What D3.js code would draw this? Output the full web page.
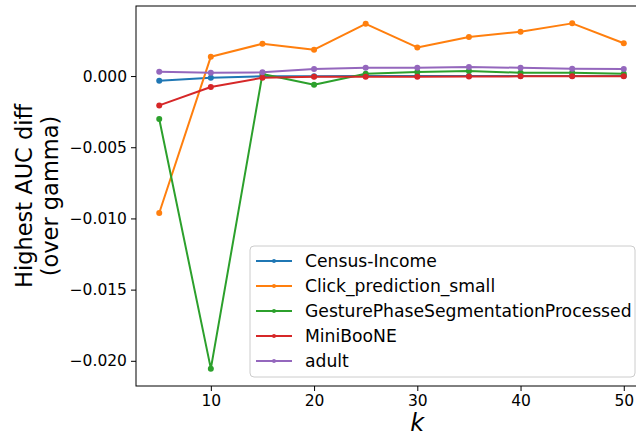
<!DOCTYPE html>
<html>
<head>
<meta charset="utf-8">
<script src="https://d3js.org/d3.v7.min.js"></script>
<style>
  body { margin: 0; background: #fff; }
  text { font-family: "DejaVu Sans", sans-serif; fill: #000; }
</style>
</head>
<body>
<div id="chart"></div>
<script>
// data
var kValues = [5, 10, 15, 20, 25, 30, 35, 40, 45, 50];
var seriesNames = ["Census-Income", "Click_prediction_small", "GesturePhaseSegmentationProcessed", "MiniBooNE", "adult"];
var census = [-0.00033, -0.00012, -0.00001, -0.00001, 0.0, 0.0, 0.0, 0.0, 0.0, 0.0];
var click = [-0.00962, 0.00136, 0.00227, 0.00185, 0.00367, 0.00201, 0.00274, 0.00311, 0.00370, 0.00230];
var gesture = [-0.00302, -0.02055, 0.00014, -0.00061, 0.00016, 0.00028, 0.00035, 0.00023, 0.00023, 0.00016];
var miniboone = [-0.00206, -0.00077, -0.00012, -0.00005, -0.00005, -0.00005, -0.00004, -0.00002, -0.00002, -0.00002];
var adult = [0.00030, 0.00023, 0.00026, 0.00049, 0.00058, 0.00058, 0.00063, 0.00058, 0.00051, 0.00049];
var xTicks = [10, 20, 30, 40, 50];
var yTicks = [0, -0.005, -0.010, -0.015, -0.020];
var colors = ["#1f77b4", "#ff7f0e", "#2ca02c", "#d62728", "#9467bd"];

var allSeries = [census, click, gesture, miniboone, adult];

var W = 636, H = 439;
var margin = {top: 6, left: 136, right: -11, bottom: 53};

var svg = d3.select("#chart").append("svg")
  .attr("width", W)
  .attr("height", H);

var x = d3.scaleLinear()
  .domain([2.75, 52.25])
  .range([margin.left, W - margin.right]);

var y = d3.scaleLinear()
  .domain([-0.02177, 0.00492])
  .range([H - margin.bottom, margin.top]);

// lines
var line = d3.line()
  .x(function(d, i) { return x(kValues[i]); })
  .y(function(d) { return y(d); });

allSeries.forEach(function(vals, s) {
  svg.append("path")
    .datum(vals)
    .attr("d", line)
    .attr("fill", "none")
    .attr("stroke", colors[s])
    .attr("stroke-width", 2)
    .attr("stroke-linejoin", "round");
  svg.selectAll(".dot" + s)
    .data(vals)
    .enter().append("circle")
    .attr("cx", function(d, i) { return x(kValues[i]); })
    .attr("cy", function(d) { return y(d); })
    .attr("r", 3)
    .attr("fill", colors[s]);
});

// axes
var fmt = function(d) { return d3.format(".3f")(d).replace("-", "\u2212"); };

var xAxis = svg.append("g")
  .attr("transform", "translate(0," + (H - margin.bottom) + ")")
  .call(d3.axisBottom(x).tickValues(xTicks).tickSize(5).tickPadding(4));

var yAxis = svg.append("g")
  .attr("transform", "translate(" + margin.left + ",0)")
  .call(d3.axisLeft(y).tickValues(yTicks).tickFormat(fmt).tickSize(5).tickPadding(4));

[xAxis, yAxis].forEach(function(g) {
  g.select(".domain").remove();
  g.selectAll("line").attr("stroke", "#000").attr("stroke-width", 1);
  g.selectAll("text").style("font-family", "DejaVu Sans").style("font-size", "15.5px").attr("fill", "#000");
});

// frame
svg.append("rect")
  .attr("x", margin.left)
  .attr("y", margin.top)
  .attr("width", x.range()[1] - margin.left)
  .attr("height", H - margin.bottom - margin.top)
  .attr("fill", "none")
  .attr("stroke", "#000")
  .attr("stroke-width", 1);

// axis labels
svg.append("text")
  .attr("transform", "translate(32,196) rotate(-90)")
  .attr("text-anchor", "middle")
  .style("font-size", "22.5px")
  .text("Highest AUC diff");
svg.append("text")
  .attr("transform", "translate(58,196) rotate(-90)")
  .attr("text-anchor", "middle")
  .style("font-size", "22.5px")
  .text("(over gamma)");

svg.append("text")
  .attr("x", x(30))
  .attr("y", 431)
  .attr("text-anchor", "middle")
  .style("font-size", "24px")
  .style("font-style", "italic")
  .text("k");

// legend
var leg = svg.append("g").attr("transform", "translate(250,246)");
leg.append("rect")
  .attr("width", 385)
  .attr("height", 131)
  .attr("rx", 4)
  .attr("fill", "#fff")
  .attr("fill-opacity", 0.8)
  .attr("stroke", "#ccc")
  .attr("stroke-width", 1);

seriesNames.forEach(function(name, i) {
  var yy = 15 + i * 25;
  leg.append("line")
    .attr("x1", 6).attr("x2", 42)
    .attr("y1", yy).attr("y2", yy)
    .attr("stroke", colors[i])
    .attr("stroke-width", 2);
  leg.append("circle")
    .attr("cx", 24).attr("cy", yy).attr("r", 2)
    .attr("fill", colors[i]);
  leg.append("text")
    .attr("x", 55)
    .attr("y", yy + 6)
    .style("font-size", "17.2px")
    .text(name);
});
</script>
</body>
</html>
